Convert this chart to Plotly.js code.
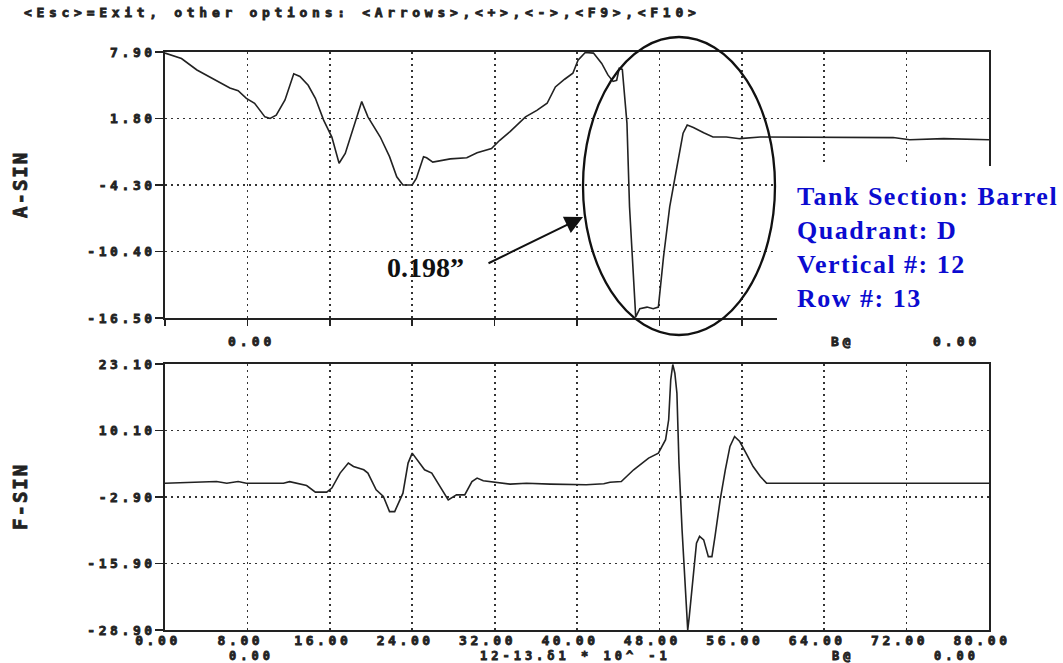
<!DOCTYPE html>
<html>
<head>
<meta charset="utf-8">
<script src="https://cdn.plot.ly/plotly-3.0.1.min.js"></script>
<style>
  html, body { margin:0; padding:0; background:#fff; }
  #chart { width:1063px; height:663px; }
</style>
</head>
<body>
<div id="chart"></div>
<script>
// ---- data ----
const topX = [0, 1.6, 3.1, 5.0, 6.3, 7.1, 7.9, 8.7, 9.7, 10.2, 10.8, 11.65, 12.5, 13.1, 13.9, 14.6, 15.4, 16.2, 16.9, 17.5, 18.3, 19.1, 19.7, 20.9, 21.8, 22.5, 23.1, 24.0, 24.4, 25.1, 25.4, 26.0, 27.7, 29.3, 30.3, 31.7, 32.5, 33.5, 35.0, 36.1, 37.1, 37.9, 38.8, 39.6, 40.1, 40.8, 41.6, 42.4, 43.0, 43.5, 43.85, 44.1, 44.4, 44.85, 45.1, 45.5, 45.7, 46.1, 46.8, 47.4, 47.9, 48.4, 49.0, 49.7, 50.3, 50.7, 51.3, 52.3, 53.2, 54.5, 55.8, 57.8, 70.7, 72.3, 75.6, 80];
const topY = [7.8, 7.3, 6.25, 5.3, 4.6, 4.35, 3.65, 3.2, 1.95, 1.8, 2.1, 3.5, 5.9, 5.65, 4.85, 3.65, 1.65, 0.1, -2.3, -1.4, 1.0, 3.35, 1.95, 0.1, -1.7, -3.55, -4.3, -4.3, -3.7, -1.7, -1.8, -2.2, -1.9, -1.8, -1.35, -0.95, -0.2, 0.6, 1.95, 2.55, 3.2, 4.7, 5.4, 5.95, 7.15, 7.85, 7.8, 6.85, 5.8, 5.2, 5.3, 6.4, 6.3, 1.35, -6.3, -12.45, -16.4, -15.65, -15.5, -15.65, -15.5, -10.9, -6.3, -2.65, 0.45, 1.2, 0.98, 0.5, 0.1, 0.1, -0.05, 0.1, 0.05, -0.15, -0.05, -0.15];

const botX = [0, 5.0, 6.0, 7.1, 7.9, 11.5, 12.1, 12.9, 13.75, 14.6, 15.7, 16.2, 17.0, 17.8, 18.3, 19.3, 19.7, 20.5, 21.2, 21.8, 22.3, 23.1, 23.6, 24.0, 24.6, 25.2, 25.9, 26.7, 27.5, 28.3, 29.1, 29.8, 30.3, 30.9, 33.5, 35.1, 37.4, 40.9, 42.6, 43.2, 44.3, 45.5, 46.95, 47.9, 48.6, 48.9, 49.1, 49.3, 49.5, 49.7, 49.9, 50.2, 50.55, 50.75, 50.9, 51.3, 51.6, 51.9, 52.3, 52.75, 53.1, 53.4, 53.9, 54.4, 54.85, 55.3, 55.8, 56.5, 57.1, 57.8, 58.4, 80];
const botY = [-0.2, 0.13, -0.2, 0.13, -0.2, -0.2, 0.1, -0.3, -0.65, -1.95, -1.95, -1.15, 1.77, 3.73, 3.06, 2.42, 1.77, -1.5, -2.8, -5.75, -5.75, -2.15, 3.73, 5.68, 4.04, 2.42, 1.77, -0.85, -3.46, -2.48, -2.48, 0.13, 0.79, 0.26, -0.38, -0.2, -0.38, -0.5, -0.3, 0.0, 0.13, 2.42, 4.7, 5.68, 8.3, 12.2, 20.0, 23.0, 21.3, 17.4, 3.73, -9.3, -21.7, -28.9, -26.3, -17.15, -11.93, -10.6, -11.28, -14.55, -14.55, -10.6, -3.46, 2.42, 6.98, 8.93, 7.95, 5.35, 3.06, 1.1, -0.19, -0.2];

const xTicks = [0, 8, 16, 24, 32, 40, 48, 56, 64, 72, 80];
const yTicksTop = [7.9, 1.8, -4.3, -10.4, -16.5];
const yTicksBot = [23.1, 10.1, -2.9, -15.9, -28.9];

const headerText = "<Esc>=Exit, other options: <Arrows>,<+>,<->,<F9>,<F10>";
const titleTop = "A-SIN";
const titleBot = "F-SIN";
const infoLines = ["Tank Section: Barrel", "Quadrant: D", "Vertical #: 12", "Row #: 13"];
const measureLabel = "0.198\u201D";
const footTop = ["0.00", "B@", "0.00"];
const footBot = ["0.00", "12-13.\u03B41 * 10^ -1", "B@", "0.00"];

// ---- styling ----
const INK = '#222';
const GRID = '#333';
const MONO = 'DejaVu Sans Mono';
const tickFont = {family: MONO, size: 13, color: INK, weight: 'bold'};
const esc = s => s.replace(/&/g, '&amp;').replace(/</g, '&lt;').replace(/>/g, '&gt;');
const spaced = (s, px, heavy) => '<span style="letter-spacing:' + px + 'px' +
  (heavy ? ';stroke:#222;stroke-width:0.8px' : '') + '">' + esc(s) + '</span>';

const fmt = v => v.toFixed(2);

const traces = [
  {x: topX, y: topY, xaxis: 'x', yaxis: 'y', type: 'scatter', mode: 'lines',
   line: {color: INK, width: 1.6}, hoverinfo: 'skip'},
  {x: botX, y: botY, xaxis: 'x2', yaxis: 'y2', type: 'scatter', mode: 'lines',
   line: {color: INK, width: 1.6}, hoverinfo: 'skip'}
];

const commonX = {
  range: [0, 80], tickmode: 'array', tickvals: xTicks, ticktext: xTicks.map(v => spaced(fmt(v), 3.6, true)),
  showgrid: true, gridcolor: GRID, griddash: '2px,4px', gridwidth: 1.8,
  showline: true, linecolor: INK, linewidth: 1.6, mirror: true,
  zeroline: false, tickfont: tickFont, fixedrange: true
};
const commonY = {
  tickmode: 'array',
  showgrid: true, gridcolor: GRID, griddash: '2px,4px', gridwidth: 1.8,
  showline: true, linecolor: INK, linewidth: 1.6, mirror: true,
  zeroline: false, tickfont: tickFont, ticks: 'outside', ticklen: 8, tickcolor: INK, tickwidth: 1.6,
  ticklabelstandoff: -3, fixedrange: true
};

// pixel -> paper helpers for overlay text placement (plot area: x 165..989, y 52..630)
const PX = p => (p - 165) / 824;
const PY = p => (630 - p) / 578;

const annotations = [];
annotations.push({xref: 'paper', yref: 'paper', x: PX(22), y: PY(12), xanchor: 'left', yanchor: 'middle',
  align: 'left', showarrow: false, text: spaced(headerText, 4.7, true),
  font: {family: MONO, size: 13, color: INK, weight: 'bold'}});
annotations.push({xref: 'paper', yref: 'paper', x: PX(20), y: PY(185), xanchor: 'center', yanchor: 'middle',
  textangle: -90, showarrow: false, text: spaced(titleTop, 2, true),
  font: {family: MONO, size: 19, color: INK, weight: 'bold'}});
annotations.push({xref: 'paper', yref: 'paper', x: PX(20), y: PY(497), xanchor: 'center', yanchor: 'middle',
  textangle: -90, showarrow: false, text: spaced(titleBot, 2, true),
  font: {family: MONO, size: 19, color: INK, weight: 'bold'}});
// sub-labels under the plots
const footTopX = [251, 843, 956];
footTop.forEach((t, i) => annotations.push({xref: 'paper', yref: 'paper', x: PX(footTopX[i]), y: PY(341),
  xanchor: 'center', yanchor: 'middle', showarrow: false, text: spaced(t, 4, true), font: tickFont}));
const footBotX = [251, 575, 843, 956];
footBot.forEach((t, i) => annotations.push({xref: 'paper', yref: 'paper', x: PX(footBotX[i]), y: PY(656),
  xanchor: 'center', yanchor: 'middle', showarrow: false, text: spaced(t, 4, true),
  font: {family: MONO, size: 12, color: INK, weight: 'bold'}}));
// blue info box
const infoY = [197, 231, 264, 298];
infoLines.forEach((t, i) => annotations.push({xref: 'paper', yref: 'paper', x: PX(795), y: PY(infoY[i]),
  xanchor: 'left', yanchor: 'middle', align: 'left', showarrow: false, text: spaced(t, 1.5, false),
  font: {family: 'Liberation Serif', size: 26, color: '#0b0bd0', weight: 'bold'}}));
// measurement label and arrow
annotations.push({xref: 'paper', yref: 'paper', x: PX(425), y: PY(267), xanchor: 'center', yanchor: 'middle',
  showarrow: false, text: measureLabel,
  font: {family: 'Liberation Serif', size: 28, color: '#111', weight: 'bold'}});
annotations.push({xref: 'paper', yref: 'paper', x: PX(583), y: PY(217), text: '', showarrow: true,
  ax: -96, ay: 47, arrowhead: 2, arrowsize: 1.8, arrowwidth: 2, arrowcolor: '#111', standoff: 0, startstandoff: 0});

const shapes = [
  // white info box area hiding the lower-right corner of the upper frame
  {type: 'rect', xref: 'paper', yref: 'paper', x0: PX(777), x1: 1.12, y0: PY(333), y1: PY(166),
   fillcolor: '#fff', line: {width: 0}, layer: 'above'},
  // ellipse around the indication
  {type: 'circle', xref: 'paper', yref: 'paper', x0: PX(583), x1: PX(775), y0: PY(335), y1: PY(37),
   line: {color: '#111', width: 2.3}, fillcolor: 'rgba(0,0,0,0)', layer: 'above'}
];

const layout = {
  width: 1063, height: 663,
  margin: {l: 165, r: 74, t: 52, b: 33},
  paper_bgcolor: '#fff', plot_bgcolor: '#fff',
  showlegend: false,
  xaxis: Object.assign({}, commonX, {anchor: 'y', domain: [0, 1], showticklabels: false,
    ticks: 'outside', ticklen: 6, tickcolor: INK, tickwidth: 1.6}),
  yaxis: Object.assign({}, commonY, {anchor: 'x', domain: [PY(318), 1], range: [-16.5, 7.9],
    tickvals: yTicksTop, ticktext: yTicksTop.map(v => spaced(fmt(v), 3.6, true))}),
  xaxis2: Object.assign({}, commonX, {anchor: 'y2', domain: [0, 1], showticklabels: true,
    ticks: '', ticklabelshift: -7, ticklabelstandoff: -2}),
  yaxis2: Object.assign({}, commonY, {anchor: 'x2', domain: [0, PY(364)], range: [-28.9, 23.1],
    tickvals: yTicksBot, ticktext: yTicksBot.map(v => spaced(fmt(v), 3.6, true))}),
  annotations: annotations,
  shapes: shapes
};

Plotly.newPlot('chart', traces, layout, {staticPlot: true, displayModeBar: false});
</script>
</body>
</html>
